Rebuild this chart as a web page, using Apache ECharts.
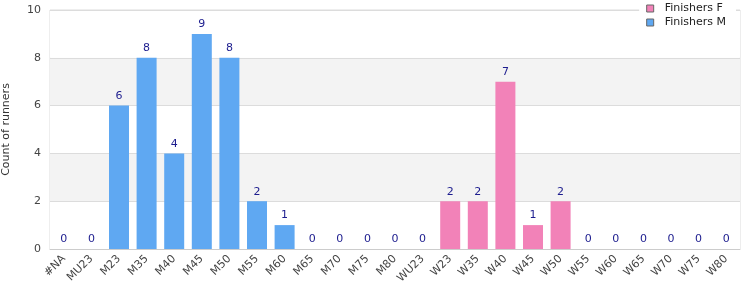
<!DOCTYPE html>
<html><head><meta charset="utf-8">
<script src="https://cdn.jsdelivr.net/npm/echarts@6/dist/echarts.min.js"></script>
<style>html,body{margin:0;padding:0;background:#fff}#c{width:750px;height:300px}</style>
</head><body><div id="c"></div>
<script>
const categories = ['#NA','MU23','M23','M35','M40','M45','M50','M55','M60','M65','M70','M75','M80','WU23','W23','W35','W40','W45','W50','W55','W60','W65','W70','W75','W80'];
const finishersM = [0,0,6,8,4,9,8,2,1,0,0,0,0,null,null,null,null,null,null,null,null,null,null,null,null];
const finishersF = [null,null,null,null,null,null,null,null,null,null,null,null,null,0,2,2,7,1,2,0,0,0,0,0,0];
const yTicks = {min:0, max:10, interval:2};

const chart = echarts.init(document.getElementById('c'), null, {renderer:'canvas'});
const labelStyle = {show:true, position:'top', color:'#1c1c8e', fontSize:11, fontFamily:'DejaVu Sans', distance:4};
chart.setOption({
  animation:false,
  textStyle:{fontFamily:'DejaVu Sans'},
  grid:{left:50, right:10, top:10, bottom:51, show:true, borderColor:'#dcdcdc', borderWidth:1, containLabel:false, outerBoundsMode:'none'},
  legend:{
    orient:'vertical', right:14, top:1,
    backgroundColor:'#fff', padding:[2,10,2,7], itemGap:3,
    itemWidth:7, itemHeight:7, icon:'rect',
    textStyle:{color:'#222', fontSize:11, fontFamily:'DejaVu Sans', padding:[0,0,0,6]},
    data:[
      {name:'Finishers F', itemStyle:{borderColor:'#666', borderWidth:1}},
      {name:'Finishers M', itemStyle:{borderColor:'#666', borderWidth:1}}
    ]
  },
  xAxis:{
    type:'category', data:categories,
    axisLine:{lineStyle:{color:'#cccccc'}},
    axisTick:{show:false},
    axisLabel:{rotate:45, color:'#444', fontSize:11, fontFamily:'DejaVu Sans', interval:0, margin:8}
  },
  yAxis:{
    type:'value', min:yTicks.min, max:yTicks.max, interval:yTicks.interval,
    name:'Count of runners', nameLocation:'middle', nameGap:38,
    nameTextStyle:{color:'#333', fontSize:11, fontFamily:'DejaVu Sans'},
    axisLabel:{color:'#444', fontSize:11, fontFamily:'DejaVu Sans', margin:9},
    axisLine:{show:false}, axisTick:{show:false},
    splitLine:{lineStyle:{color:'#dcdcdc'}},
    splitArea:{show:true, areaStyle:{color:['#ffffff','#f3f3f3']}}
  },
  series:[
    {name:'Finishers F', type:'bar', data:finishersF, barWidth:20, barGap:'-100%',
     itemStyle:{color:'#f282b8'}, label:labelStyle},
    {name:'Finishers M', type:'bar', data:finishersM, barWidth:20, barGap:'-100%',
     itemStyle:{color:'#5fa8f2'}, label:labelStyle}
  ]
});
</script></body></html>
